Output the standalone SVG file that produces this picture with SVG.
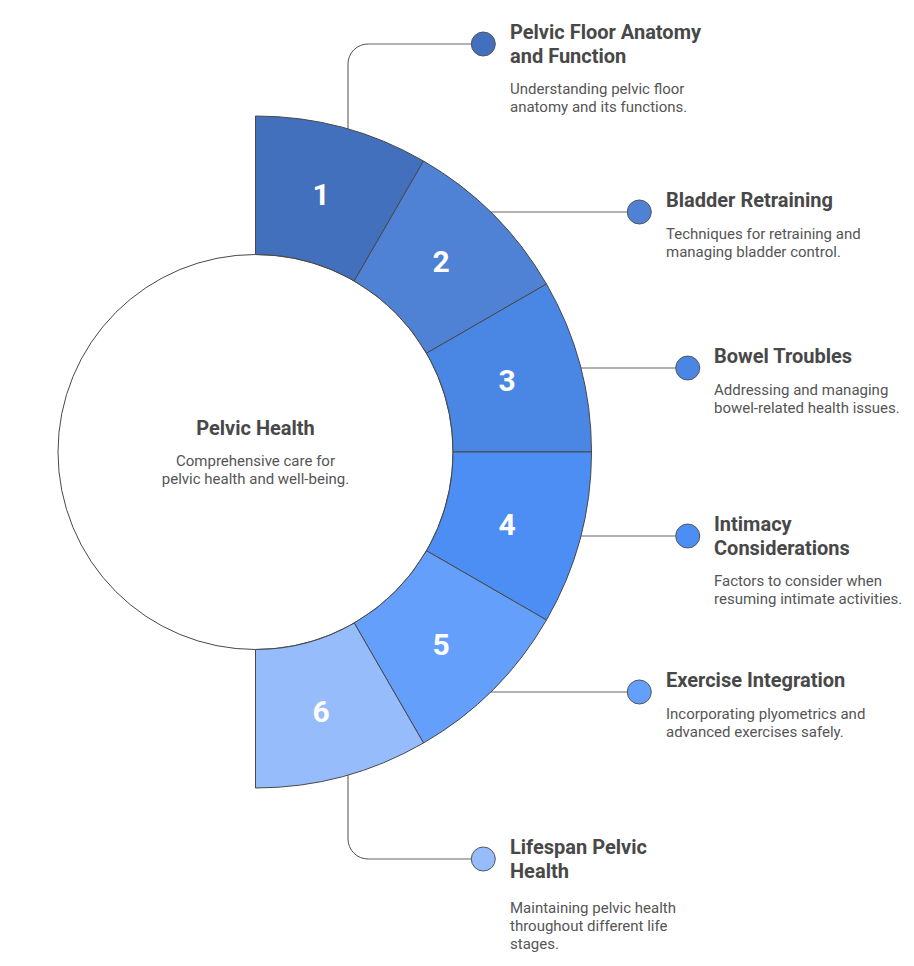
<svg xmlns="http://www.w3.org/2000/svg" width="914" height="966" viewBox="0 0 914 966">
<style>
.seg{stroke:#484848;stroke-width:1}
.num{font-family:Roboto,"Liberation Sans",sans-serif;font-weight:700;font-size:30px;fill:#ffffff;text-anchor:middle;dominant-baseline:central}
.ttl{font-family:Roboto,"Liberation Sans",sans-serif;font-weight:700;font-size:20px;fill:#484848}
.dsc{font-family:Roboto,"Liberation Sans",sans-serif;font-size:15px;fill:#555555}
.dot{stroke:#555555;stroke-width:1}
.cg{fill:none;stroke:#999999;stroke-width:1.5}
.cd{fill:none;stroke:#505050;stroke-width:1}
</style>
<rect width="914" height="966" fill="#ffffff"/>
<g id="connectors">
<path class="cd" d="M348 129 L348 64 A20 20 0 0 1 368 44"/>
<path class="cg" d="M368 44 L471 44"/>
<path class="cg" d="M490.7 212 L627.3 212"/>
<path class="cg" d="M580.8 368 L675.7 368"/>
<path class="cg" d="M580.8 536 L675.7 536"/>
<path class="cg" d="M490.7 692 L627.3 692"/>
<path class="cd" d="M348 775 L348 839 A20 20 0 0 0 368 859"/>
<path class="cg" d="M368 859 L471 859"/>
</g>
<g id="center">
<circle cx="255.5" cy="452" r="197.5" fill="#ffffff" stroke="#484848" stroke-width="1"/>
<text class="ttl" x="255.5" y="434.5" text-anchor="middle">Pelvic Health</text>
<text class="dsc" x="255.5" y="466" text-anchor="middle">Comprehensive care for</text>
<text class="dsc" x="255.5" y="484" text-anchor="middle">pelvic health and well-being.</text>
</g>
<g id="seg1">
<path class="seg" fill="#4270bc" d="M255.5 116 A336 336 0 0 1 423.5 161.02 L354.25 280.96 A197.5 197.5 0 0 0 255.5 254.5 Z"/>
<text class="num" x="321" y="194">1</text>
</g>
<g id="seg2">
<path class="seg" fill="#4f81d4" d="M423.5 161.02 A336 336 0 0 1 546.48 284 L426.54 353.25 A197.5 197.5 0 0 0 354.25 280.96 Z"/>
<text class="num" x="441" y="261">2</text>
</g>
<g id="seg3">
<path class="seg" fill="#4a87e4" d="M546.48 284 A336 336 0 0 1 591.5 452 L453 452 A197.5 197.5 0 0 0 426.54 353.25 Z"/>
<text class="num" x="507" y="380">3</text>
</g>
<g id="seg4">
<path class="seg" fill="#4d8ef5" d="M591.5 452 A336 336 0 0 1 546.48 620 L426.54 550.75 A197.5 197.5 0 0 0 453 452 Z"/>
<text class="num" x="507" y="524">4</text>
</g>
<g id="seg5">
<path class="seg" fill="#64a0fb" d="M546.48 620 A336 336 0 0 1 423.5 742.98 L354.25 623.04 A197.5 197.5 0 0 0 426.54 550.75 Z"/>
<text class="num" x="441" y="644">5</text>
</g>
<g id="seg6">
<path class="seg" fill="#96bcfc" d="M423.5 742.98 A336 336 0 0 1 255.5 788 L255.5 649.5 A197.5 197.5 0 0 0 354.25 623.04 Z"/>
<text class="num" x="321" y="711">6</text>
</g>
<g id="item1">
<circle class="dot" cx="483.3" cy="44" r="12" fill="#4270bc"/>
<text class="ttl" x="510" y="38.5">Pelvic Floor Anatomy</text>
<text class="ttl" x="510" y="62.5">and Function</text>
<text class="dsc" x="510" y="94">Understanding pelvic floor</text>
<text class="dsc" x="510" y="112">anatomy and its functions.</text>
</g>
<g id="item2">
<circle class="dot" cx="639.3" cy="212" r="12" fill="#4f81d4"/>
<text class="ttl" x="666" y="206.5">Bladder Retraining</text>
<text class="dsc" x="666" y="238.5">Techniques for retraining and</text>
<text class="dsc" x="666" y="256.5">managing bladder control.</text>
</g>
<g id="item3">
<circle class="dot" cx="687.7" cy="368" r="12" fill="#4a87e4"/>
<text class="ttl" x="714" y="362.5">Bowel Troubles</text>
<text class="dsc" x="714" y="394.5">Addressing and managing</text>
<text class="dsc" x="714" y="412.5">bowel-related health issues.</text>
</g>
<g id="item4">
<circle class="dot" cx="687.7" cy="536" r="12" fill="#4d8ef5"/>
<text class="ttl" x="714" y="530.5">Intimacy</text>
<text class="ttl" x="714" y="554.5">Considerations</text>
<text class="dsc" x="714" y="586">Factors to consider when</text>
<text class="dsc" x="714" y="604">resuming intimate activities.</text>
</g>
<g id="item5">
<circle class="dot" cx="639.3" cy="692" r="12" fill="#64a0fb"/>
<text class="ttl" x="666" y="686.5">Exercise Integration</text>
<text class="dsc" x="666" y="718.5">Incorporating plyometrics and</text>
<text class="dsc" x="666" y="736.5">advanced exercises safely.</text>
</g>
<g id="item6">
<circle class="dot" cx="483.3" cy="859" r="12" fill="#96bcfc"/>
<text class="ttl" x="510" y="854">Lifespan Pelvic</text>
<text class="ttl" x="510" y="878">Health</text>
<text class="dsc" x="510" y="913">Maintaining pelvic health</text>
<text class="dsc" x="510" y="931">throughout different life</text>
<text class="dsc" x="510" y="949">stages.</text>
</g>
</svg>
